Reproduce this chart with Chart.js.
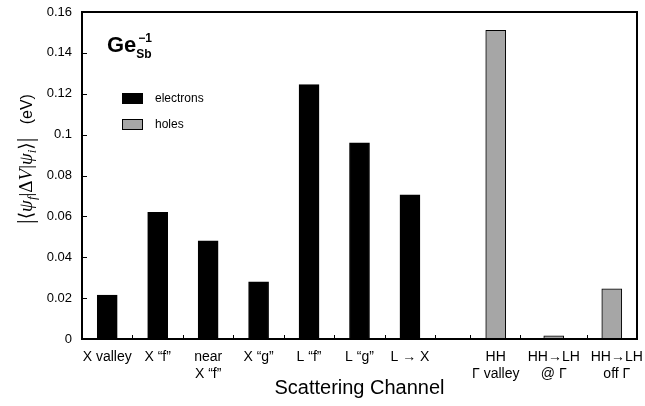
<!DOCTYPE html>
<html>
<head>
<meta charset="utf-8">
<script src="https://cdn.jsdelivr.net/npm/chart.js@4"></script>
<style>
  html, body { margin: 0; padding: 0; background: #fff; }
  #wrap { width: 645px; height: 406px; }
</style>
</head>
<body>
<div id="wrap"><canvas id="chart" width="645" height="406"></canvas></div>
<script>
// bar positions along the channel axis
const electronX = [1, 2, 3, 4, 5, 6, 7]
const holeX = [8.7, 9.85, 11]
// |<psi_f|dV|psi_i>| in eV
const electronVals = [0.0215, 0.062, 0.048, 0.028, 0.1245, 0.096, 0.0705]
const holeVals = [0.151, 0.0015, 0.0245]
// category labels (placed under each bar)
const channelLabels = ['X valley', 'X \u201cf\u201d', ['near', 'X \u201cf\u201d'], 'X \u201cg\u201d', 'L \u201cf\u201d', 'L \u201cg\u201d', 'L \u2192 X',
  ['HH', '\u0393 valley'], ['HH\u2192LH', '@ \u0393'], ['HH\u2192LH', 'off \u0393']]
const labelX = electronX.concat([8.7, 9.85, 11.1])
// small inward tick marks on the x axis
const xTickMarks = [1.5, 2.5, 3.5, 4.5, 5.5, 6.5, 7.5, 8.19, 9.18, 10.51]
const yTicks = [0, 0.02, 0.04, 0.06, 0.08, 0.1, 0.12, 0.14, 0.16]

const FONT = '"Liberation Sans", Arial, Helvetica, sans-serif'

const toPoints = (xs, ys) => xs.map((x, i) => ({ x: x, y: ys[i] }))

// Box, inward ticks, legend, annotation and math y label
const decorations = {
  id: 'decorations',
  afterDraw(chart) {
    const { ctx, chartArea, scales } = chart
    const { left, right, top, bottom } = chartArea

    ctx.save()
    ctx.strokeStyle = '#000'
    ctx.lineWidth = 1
    // inward ticks
    ctx.beginPath()
    yTicks.forEach(v => {
      const y = Math.round(scales.y.getPixelForValue(v)) + 0.5
      ctx.moveTo(left, y)
      ctx.lineTo(left + 5, y)
    })
    xTickMarks.forEach(v => {
      const x = Math.round(scales.x.getPixelForValue(v)) + 0.5
      ctx.moveTo(x, bottom)
      ctx.lineTo(x, bottom - 4)
    })
    ctx.stroke()

    // full box
    ctx.lineWidth = 2
    ctx.strokeRect(left, top, right - left, bottom - top)

    // legend
    const sets = chart.data.datasets
    sets.forEach((ds, i) => {
      const by = 93 + i * 26
      ctx.fillStyle = ds.backgroundColor
      ctx.fillRect(122, by, 21, 11)
      ctx.lineWidth = 1
      ctx.strokeStyle = '#000'
      ctx.strokeRect(122.5, by + 0.5, 20, 10)
      ctx.fillStyle = '#000'
      ctx.font = '12px ' + FONT
      ctx.textBaseline = 'middle'
      ctx.textAlign = 'left'
      ctx.fillText(ds.label, 155, by + 5.5)
    })

    // Ge_Sb^-1
    ctx.textBaseline = 'alphabetic'
    ctx.font = 'bold 22px ' + FONT
    ctx.fillText('Ge', 107, 52)
    const gw = ctx.measureText('Ge').width
    ctx.font = 'bold 12px ' + FONT
    ctx.fillText('Sb', 107 + gw, 58)
    ctx.fillText('\u22121', 107 + gw + 2, 42)

    // y axis label, rotated
    const serif = '"Liberation Serif", "DejaVu Serif", serif'
    const parts = [
      ['|', '23px ' + serif, 1],
      ['\u27e8', '19px "DejaVu Serif", serif', 0],
      ['\u03c8', 'italic 19px ' + serif, 0],
      ['f', 'italic 13px ' + serif, 4],
      ['|\u0394', '19px ' + serif, 0],
      ['V', 'italic 19px ' + serif, 0],
      ['|', '19px ' + serif, 0],
      ['\u03c8', 'italic 19px ' + serif, 0],
      ['i', 'italic 13px ' + serif, 4],
      ['\u27e9', '19px "DejaVu Serif", serif', 0],
      ['|', '23px ' + serif, 1],
      ['   ', '16px ' + FONT, 0],
      ['(eV)', '16px ' + FONT, 0]
    ]
    let total = 0
    parts.forEach(p => { ctx.font = p[1]; total += ctx.measureText(p[0]).width })
    ctx.translate(32, 159)
    ctx.rotate(-Math.PI / 2)
    let x = -total / 2
    parts.forEach(p => {
      ctx.font = p[1]
      ctx.fillText(p[0], x, p[2])
      x += ctx.measureText(p[0]).width
    })
    ctx.restore()
  }
}

new Chart(document.getElementById('chart'), {
  type: 'bar',
  data: {
    datasets: [
      {
        label: 'electrons',
        data: toPoints(electronX, electronVals),
        backgroundColor: '#000000',
        borderColor: '#000000',
        borderWidth: 1
      },
      {
        label: 'holes',
        data: toPoints(holeX, holeVals),
        backgroundColor: '#a6a6a6',
        borderColor: '#000000',
        borderWidth: 1
      }
    ]
  },
  options: {
    responsive: false,
    animation: false,
    grouped: false,
    barThickness: 20,
    layout: { padding: { left: 0, top: 12, right: 8, bottom: 0 } },
    plugins: {
      legend: { display: false },
      tooltip: { enabled: false }
    },
    scales: {
      x: {
        type: 'linear',
        offset: false,
        min: 0.5,
        max: 11.5,
        afterBuildTicks: scale => { scale.ticks = labelX.map(v => ({ value: v })) },
        afterFit: scale => {
          scale.height = 67
          scale.paddingLeft = 0
          scale.paddingRight = 0
        },
        grid: { display: false, drawTicks: false },
        border: { display: true, color: '#000', width: 2 },
        ticks: {
          autoSkip: false,
          maxRotation: 0,
          padding: 9,
          color: '#000',
          font: { family: FONT, size: 14, lineHeight: 1.25 },
          callback: (value, index) => channelLabels[index]
        },
        title: {
          display: true,
          text: 'Scattering Channel',
          color: '#000',
          font: { family: FONT, size: 20 },
          padding: { top: 0, bottom: 6 }
        }
      },
      y: {
        min: 0,
        max: 0.16,
        afterBuildTicks: scale => { scale.ticks = yTicks.map(v => ({ value: v })) },
        afterFit: scale => {
          scale.width = 82
          scale.paddingTop = 0
          scale.paddingBottom = 0
        },
        grid: { display: false, drawTicks: false },
        border: { display: true, color: '#000', width: 2 },
        ticks: {
          padding: 10,
          color: '#000',
          font: { family: FONT, size: 13 },
          callback: v => String(+v.toFixed(2))
        }
      }
    }
  },
  plugins: [decorations]
})
</script>
</body>
</html>
